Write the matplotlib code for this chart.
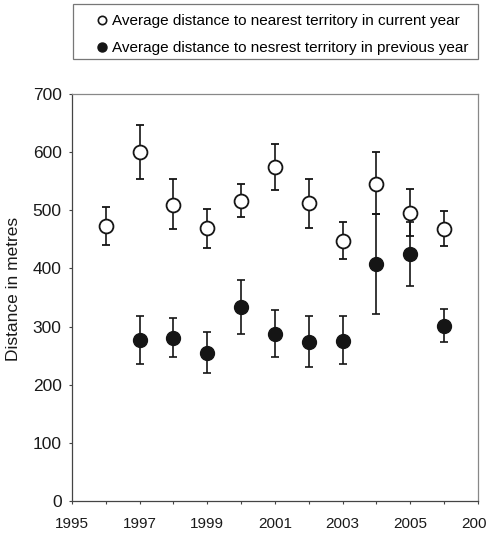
import matplotlib
matplotlib.use("Agg")
from matplotlib import pyplot as plt
from matplotlib.lines import Line2D
from matplotlib.patches import Rectangle

plt.rcParams['font.family'] = ['Liberation Sans', 'DejaVu Sans']

# Average distance to nearest territory in current year (open circles)
years_current = [1996, 1997, 1998, 1999, 2000, 2001, 2002, 2003, 2004, 2005, 2006]
current_mean = [473, 600, 509, 469, 516, 574, 512, 448, 546, 496, 468]
current_low = [440, 553, 467, 435, 488, 535, 470, 416, 494, 455, 439]
current_high = [506, 647, 553, 503, 546, 614, 554, 479, 600, 536, 499]

# Average distance to nearest territory in previous year (filled circles)
years_previous = [1997, 1998, 1999, 2000, 2001, 2002, 2003, 2004, 2005, 2006]
previous_mean = [277, 280, 255, 333, 287, 274, 276, 408, 425, 301]
previous_low = [236, 247, 221, 288, 247, 231, 235, 322, 370, 274]
previous_high = [319, 314, 290, 380, 329, 319, 318, 494, 479, 330]

year_ticks = list(range(1995, 2008))
year_labels = [str(y) if y % 2 == 1 else '' for y in year_ticks]
y_ticks = [0, 100, 200, 300, 400, 500, 600, 700]

W, H = 487, 533
fig = plt.figure(figsize=(W / 100, H / 100), dpi=100)
ax = fig.add_axes([72 / W, 32 / H, 406 / W, 407 / H])

cur_err = [[m - lo for m, lo in zip(current_mean, current_low)],
           [hi - m for m, hi in zip(current_mean, current_high)]]
prev_err = [[m - lo for m, lo in zip(previous_mean, previous_low)],
            [hi - m for m, hi in zip(previous_mean, previous_high)]]

ax.errorbar(years_previous, previous_mean, yerr=prev_err, fmt='o', color='#151515',
            markersize=10, elinewidth=1.2, capsize=3, capthick=1.2, zorder=3)
ax.errorbar(years_current, current_mean, yerr=cur_err, fmt='o', color='#151515',
            markerfacecolor='white', markeredgewidth=1.3, markersize=10,
            elinewidth=1.2, capsize=3, capthick=1.2, zorder=4)

ax.set_xlim(1995, 2007)
ax.set_ylim(0, 700)
ax.set_xticks(year_ticks)
ax.set_xticklabels(year_labels)
ax.set_yticks(y_ticks)
ax.tick_params(axis='both', direction='out', length=2.5, width=0.8,
               colors='#444444', labelcolor='#1a1a1a')
ax.tick_params(axis='y', labelsize=12.5, pad=5)
ax.tick_params(axis='x', labelsize=11, pad=9)
for side in ['left', 'bottom']:
    ax.spines[side].set_color('#444444')
    ax.spines[side].set_linewidth(0.9)
for side in ['top', 'right']:
    ax.spines[side].set_color('#888888')
    ax.spines[side].set_linewidth(0.9)

ax.set_ylabel("Distance in metres", fontsize=12.5, color='#1a1a1a')
ax.yaxis.set_label_coords(-0.125, 0.52)

# Legend box drawn separately so the padding matches the reference
fig.patches.append(Rectangle((73 / W, 1 - 59 / H), 405 / W, 55 / H, transform=fig.transFigure,
                             fill=False, edgecolor='#777777', linewidth=0.9))
handles = [
    Line2D([], [], marker='o', linestyle='none', color='#151515', markerfacecolor='white',
           markeredgewidth=1.2, markersize=6),
    Line2D([], [], marker='o', linestyle='none', color='#151515', markersize=6.5),
]
labels = ["Average distance to nearest territory in current year",
          "Average distance to nesrest territory in previous year"]
fig.legend(handles, labels, loc='upper left', bbox_to_anchor=(97 / W, 1 - 14 / H),
           fontsize=11, frameon=False, borderpad=0, borderaxespad=0,
           handlelength=0.6, handletextpad=0.35, labelspacing=0.85)

fig.savefig("out.png", dpi=100)
